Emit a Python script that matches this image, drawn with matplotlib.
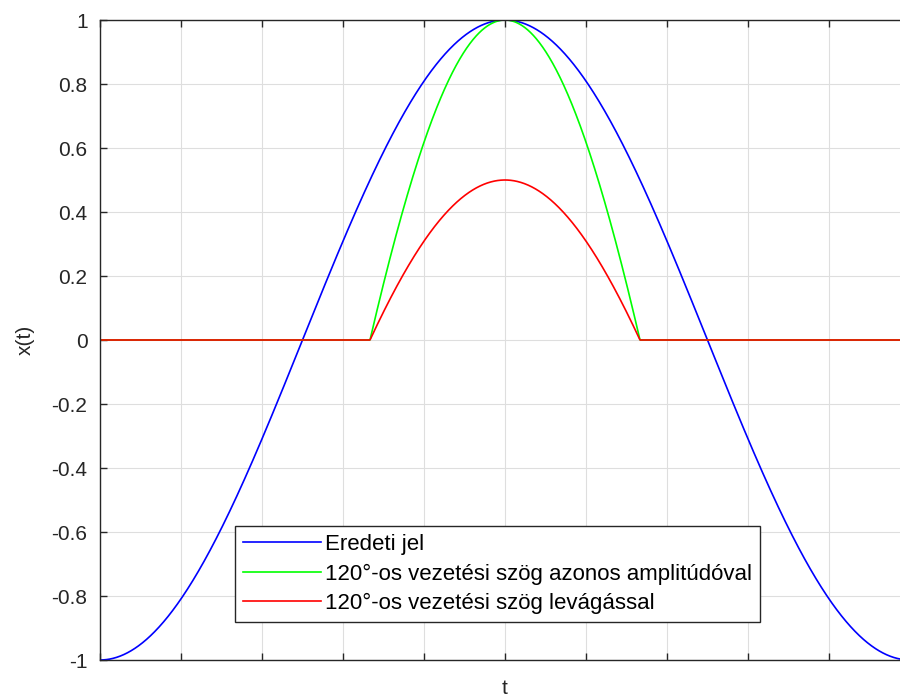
import numpy as np
import matplotlib
matplotlib.use('Agg')
import matplotlib.pyplot as plt

plt.rcParams['font.family'] = ['Liberation Sans', 'DejaVu Sans']

# jel parameterei
amplitudo = 1.0
vezetesi_szog = 120  # fok
t = np.linspace(0, 2*np.pi, 2001)

eredeti = -amplitudo*np.cos(t)
kuszob = -amplitudo*np.cos(np.pi - np.deg2rad(vezetesi_szog)/2)  # 0.5
vezet = (t >= np.pi - np.deg2rad(vezetesi_szog)/2) & (t <= np.pi + np.deg2rad(vezetesi_szog)/2)
levagott = np.where(vezet, eredeti - kuszob, 0)
azonos_ampl = np.where(vezet, (eredeti - kuszob)*amplitudo/(amplitudo - kuszob), 0)

cimkek = ['Eredeti jel',
          '120°-os vezetési szög azonos amplitúdóval',
          '120°-os vezetési szög levágással']
y_ticks = np.round(np.arange(-1, 1.01, 0.2), 1)
y_tick_labels = ['-1', '-0.8', '-0.6', '-0.4', '-0.2', '0', '0.2', '0.4', '0.6', '0.8', '1']

fig = plt.figure(figsize=(9, 6.97), dpi=100)
ax = fig.add_axes([100/900, 37/697, 810/900, 640/697])

ax.plot(t, eredeti, color='#0000ff', lw=1.2, label=cimkek[0])
ax.plot(t, azonos_ampl, color='#00ff00', lw=1.2, label=cimkek[1])
ax.plot(t, levagott, color='#ff0000', lw=1.2, label=cimkek[2])

ax.set_xlim(0, 2*np.pi)
ax.set_ylim(-1, 1)
ax.set_xticks(np.linspace(0, 2*np.pi, 11))
ax.set_xticklabels([])
ax.set_yticks(y_ticks)
ax.set_yticklabels(y_tick_labels)
ax.grid(True, color='#dedede', lw=0.8)
ax.tick_params(direction='in', length=5, width=1, colors='#262626',
               labelsize=15, top=True, right=True, pad=9)
for sp in ax.spines.values():
    sp.set_color('#262626')
    sp.set_linewidth(1)
ax.set_xlabel('t', fontsize=15, color='#262626', labelpad=5)
ax.set_ylabel('x(t)', fontsize=15, color='#262626', labelpad=12)

leg = ax.legend(loc='lower left', bbox_to_anchor=(135/810, 38/640), borderaxespad=0,
                fancybox=False, edgecolor='#262626', fontsize=16, handlelength=3.5,
                handletextpad=0.2, borderpad=0.35, labelspacing=0.38, framealpha=1)
leg.get_frame().set_linewidth(1)

fig.savefig('out.png', dpi=100)
